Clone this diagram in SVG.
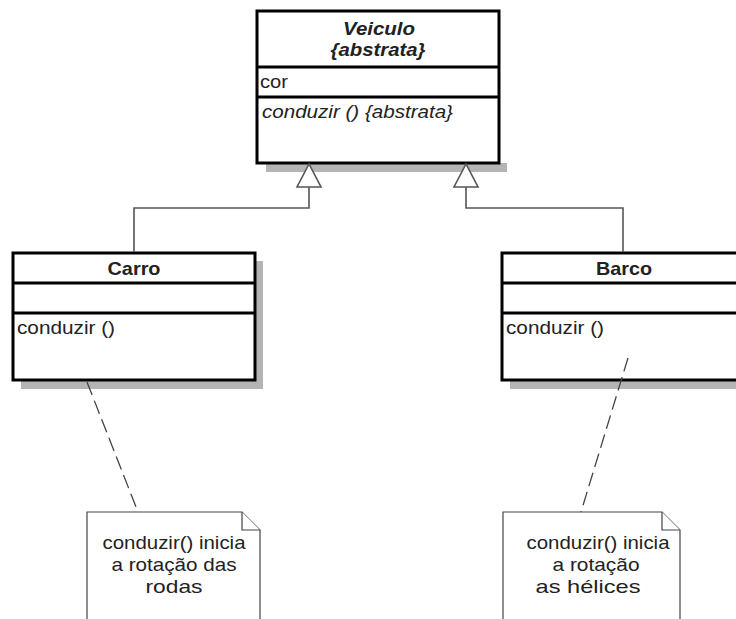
<svg xmlns="http://www.w3.org/2000/svg" width="736" height="619" viewBox="0 0 736 619">
<style>
.box{fill:#fff;stroke:#000;stroke-width:3}
.div{stroke:#000;stroke-width:3}
.sh{fill:#b4b4b4}
.t{font-family:"Liberation Sans",Arial,sans-serif;font-size:19px;fill:#222}
.b{font-weight:bold}
.i{font-style:italic}
.c{text-anchor:middle}
.con{fill:none;stroke:#555;stroke-width:1.6}
.tri{fill:#fff;stroke:#555;stroke-width:1.6}
.dash{fill:none;stroke:#444;stroke-width:1.3;stroke-dasharray:14 6}
.note{fill:#fff;stroke:#444;stroke-width:1.2}
</style>
<rect width="736" height="619" fill="#fff"/>
<g id="veiculo">
<rect class="sh" x="266" y="163" width="241" height="9"/>
<rect class="box" x="257" y="11" width="242" height="152"/>
<line class="div" x1="257" y1="67" x2="499" y2="67"/>
<line class="div" x1="257" y1="97" x2="499" y2="97"/>
<text class="t b i c" x="379" y="35" textLength="72" lengthAdjust="spacingAndGlyphs">Veiculo</text>
<text class="t b i c" x="378" y="56" textLength="95" lengthAdjust="spacingAndGlyphs">{abstrata}</text>
<text class="t" x="260" y="88" textLength="28" lengthAdjust="spacingAndGlyphs">cor</text>
<text class="t i" x="262" y="118" textLength="191" lengthAdjust="spacingAndGlyphs">conduzir () {abstrata}</text>
</g>
<g id="carro">
<rect class="sh" x="21" y="261" width="242" height="128"/>
<rect class="box" x="13" y="253" width="242" height="127"/>
<line class="div" x1="13" y1="283" x2="255" y2="283"/>
<line class="div" x1="13" y1="313" x2="255" y2="313"/>
<text class="t b c" x="134" y="275" textLength="53" lengthAdjust="spacingAndGlyphs">Carro</text>
<text class="t" x="17" y="334" textLength="98" lengthAdjust="spacingAndGlyphs">conduzir ()</text>
</g>
<g id="barco">
<rect class="sh" x="510" y="261" width="242" height="128"/>
<rect class="box" x="502" y="253" width="242" height="127"/>
<line class="div" x1="502" y1="283" x2="744" y2="283"/>
<line class="div" x1="502" y1="313" x2="744" y2="313"/>
<text class="t b c" x="624" y="275" textLength="56" lengthAdjust="spacingAndGlyphs">Barco</text>
<text class="t" x="506" y="334" textLength="98" lengthAdjust="spacingAndGlyphs">conduzir ()</text>
</g>
<g id="note-carro">
<path class="note" d="M87 625 V512 H242 L260 530 V625"/>
<path class="note" d="M242 512 V530 H260"/>
<text class="t c" x="174" y="549" textLength="143" lengthAdjust="spacingAndGlyphs">conduzir() inicia</text>
<text class="t c" x="174" y="571" textLength="125" lengthAdjust="spacingAndGlyphs">a rotação das</text>
<text class="t c" x="174" y="593" textLength="57" lengthAdjust="spacingAndGlyphs">rodas</text>
</g>
<g id="note-barco">
<path class="note" d="M503 625 V512 H662 L680 530 V625"/>
<path class="note" d="M662 512 V530 H680"/>
<text class="t c" x="598" y="549" textLength="143" lengthAdjust="spacingAndGlyphs">conduzir() inicia</text>
<text class="t c" x="596" y="571" textLength="87" lengthAdjust="spacingAndGlyphs">a rotação</text>
<text class="t c" x="588" y="593" textLength="105" lengthAdjust="spacingAndGlyphs">as hélices</text>
</g>
<g id="connectors">
<path class="con" d="M309 187 V208 H134 V252"/>
<path class="con" d="M466 187 V208 H623 V252"/>
<polygon class="tri" points="309,164 297,187 321,187"/>
<polygon class="tri" points="466,164 454,187 478,187"/>
<path class="dash" d="M87 382 L138 512"/>
<path class="dash" d="M628 358 L581 512"/>
</g>
</svg>
